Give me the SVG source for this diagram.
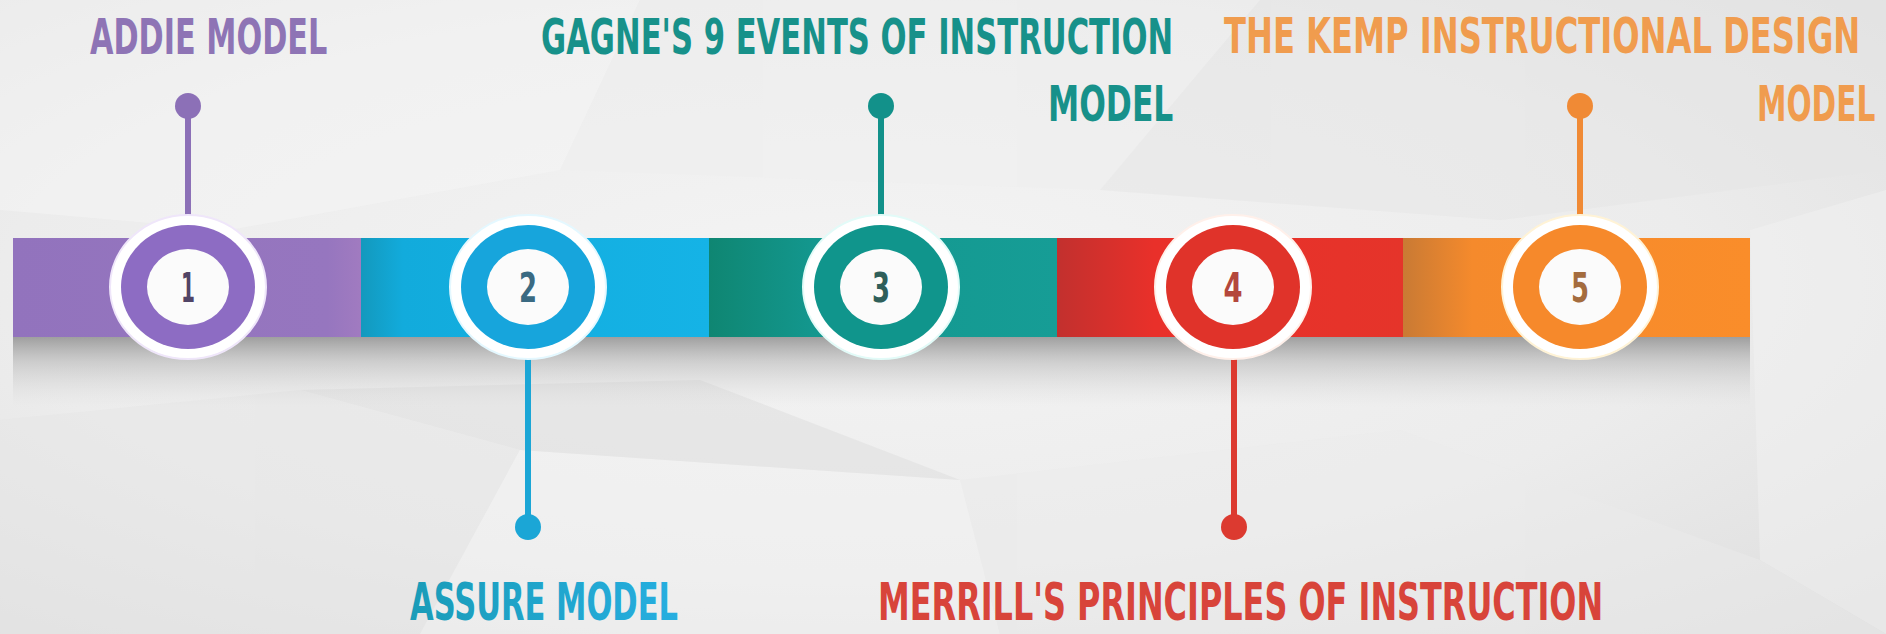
<svg xmlns="http://www.w3.org/2000/svg" width="1886" height="634" viewBox="0 0 1886 634">
  <defs>
    <radialGradient id="bgGrad" cx="0.45" cy="0.45" r="0.75">
      <stop offset="0" stop-color="#f4f4f4"/>
      <stop offset="0.6" stop-color="#ececec"/>
      <stop offset="1" stop-color="#dedede"/>
    </radialGradient>
    <linearGradient id="shadowGrad" x1="0" y1="0" x2="0" y2="1">
      <stop offset="0" stop-color="#969696" stop-opacity="0.9"/>
      <stop offset="0.35" stop-color="#b2b2b2" stop-opacity="0.55"/>
      <stop offset="1" stop-color="#d8d8d8" stop-opacity="0"/>
    </linearGradient>
    <linearGradient id="gPurple" x1="0" y1="0" x2="1" y2="0">
      <stop offset="0" stop-color="#9273bd"/>
      <stop offset="0.9" stop-color="#9676bf"/>
      <stop offset="1" stop-color="#a17bc0"/>
    </linearGradient>
    <linearGradient id="gBlue" x1="0" y1="0" x2="1" y2="0">
      <stop offset="0" stop-color="#1399bd"/>
      <stop offset="0.12" stop-color="#12abdc"/>
      <stop offset="1" stop-color="#15b3e6"/>
    </linearGradient>
    <linearGradient id="gTeal" x1="0" y1="0" x2="1" y2="0">
      <stop offset="0" stop-color="#0f8672"/>
      <stop offset="0.3" stop-color="#13978e"/>
      <stop offset="1" stop-color="#169d96"/>
    </linearGradient>
    <linearGradient id="gRed" x1="0" y1="0" x2="1" y2="0">
      <stop offset="0" stop-color="#c2302e"/>
      <stop offset="0.28" stop-color="#e9302a"/>
      <stop offset="1" stop-color="#e5342a"/>
    </linearGradient>
    <linearGradient id="gOrange" x1="0" y1="0" x2="1" y2="0">
      <stop offset="0" stop-color="#c97a34"/>
      <stop offset="0.2" stop-color="#f58a2c"/>
      <stop offset="1" stop-color="#fa8d2a"/>
    </linearGradient>
    <linearGradient id="gAssure" x1="0" y1="0" x2="1" y2="0">
      <stop offset="0" stop-color="#1a9cb8"/>
      <stop offset="1" stop-color="#26aee0"/>
    </linearGradient>
  </defs>
  <style>
    .lbl { font-family: "DejaVu Sans Condensed", "Liberation Sans", sans-serif; font-weight: bold; font-size: 50px; }
    .lblb { font-family: "DejaVu Sans Condensed", "Liberation Sans", sans-serif; font-weight: bold; font-size: 52px; }
    .num { font-family: "DejaVu Sans Condensed", "Liberation Sans", sans-serif; font-weight: bold; font-size: 40px; text-anchor: middle; }
    .outer { fill: #ffffff; }
    .inner { fill: #fbfbfb; }
    .stem { stroke-width: 6; fill: none; }
  </style>

  <!-- background -->
  <rect x="0" y="0" width="1886" height="634" fill="url(#bgGrad)"/>
  <g id="background-facets" opacity="0.5">
    <polygon points="0,0 640,0 560,170 230,230 0,210" fill="#f6f6f6"/>
    <polygon points="640,0 1260,0 1100,190 560,170" fill="#efefef"/>
    <polygon points="1260,0 1886,0 1886,170 1500,220 1100,190" fill="#e6e6e6"/>
    <polygon points="1750,230 1886,190 1886,634 1760,560" fill="#f2f2f2"/>
    <polygon points="0,420 300,390 520,450 420,634 0,634" fill="#e6e6e6"/>
    <polygon points="520,450 960,480 1000,634 420,634" fill="#f3f3f3"/>
    <polygon points="960,480 1400,430 1760,560 1886,634 1000,634" fill="#ebebeb"/>
    <polygon points="300,390 700,380 960,480 520,450" fill="#dedede"/>
  </g>

  <!-- bar shadow -->
  <rect x="13" y="337" width="1737" height="70" fill="url(#shadowGrad)"/>

  <!-- timeline bar -->
  <g id="bar">
    <rect x="13" y="238" width="349" height="99" fill="url(#gPurple)"/>
    <rect x="361" y="238" width="349" height="99" fill="url(#gBlue)"/>
    <rect x="709" y="238" width="349" height="99" fill="url(#gTeal)"/>
    <rect x="1057" y="238" width="347" height="99" fill="url(#gRed)"/>
    <rect x="1403" y="238" width="347" height="99" fill="url(#gOrange)"/>
  </g>

  <!-- connectors -->
  <g id="connectors">
    <line class="stem" x1="188" y1="106" x2="188" y2="240" stroke="#8c70b7"/>
    <circle cx="188" cy="106" r="13" fill="#8c70b7"/>
    <line class="stem" x1="528" y1="330" x2="528" y2="527" stroke="#1ba6d6"/>
    <circle cx="528" cy="527" r="13" fill="#1ba6d6"/>
    <line class="stem" x1="881" y1="106" x2="881" y2="240" stroke="#12918a"/>
    <circle cx="881" cy="106" r="13" fill="#12918a"/>
    <line class="stem" x1="1234" y1="330" x2="1234" y2="527" stroke="#dc3a30"/>
    <circle cx="1234" cy="527" r="13" fill="#dc3a30"/>
    <line class="stem" x1="1580" y1="106" x2="1580" y2="240" stroke="#f08a35"/>
    <circle cx="1580" cy="106" r="13" fill="#f08a35"/>
  </g>

  <!-- node 1 -->
  <g id="node-1">
    <ellipse class="outer" cx="188" cy="287" rx="78" ry="72" stroke="#efe6fa" stroke-width="2"/>
    <ellipse cx="188" cy="287" rx="67" ry="62" fill="#8d6cc3"/>
    <ellipse class="inner" cx="188" cy="287" rx="41" ry="38"/>
    <text class="num" x="188" y="302" fill="#514466" textLength="14" lengthAdjust="spacingAndGlyphs">1</text>
    <text class="lbl" transform="translate(90,54) scale(0.7,1)" x="0" y="0" fill="#8e74b5" textLength="339" lengthAdjust="spacingAndGlyphs">ADDIE MODEL</text>
  </g>

  <!-- node 2 -->
  <g id="node-2">
    <ellipse class="outer" cx="528" cy="287" rx="78" ry="72" stroke="#e4f8ff" stroke-width="2"/>
    <ellipse cx="528" cy="287" rx="67" ry="62" fill="#17a5dc"/>
    <ellipse class="inner" cx="528" cy="287" rx="41" ry="38"/>
    <text class="num" x="528" y="302" fill="#3a6a82" textLength="18" lengthAdjust="spacingAndGlyphs">2</text>
    <text class="lblb" transform="translate(410,620) scale(0.7,1)" x="0" y="0" fill="url(#gAssure)" textLength="383" lengthAdjust="spacingAndGlyphs">ASSURE MODEL</text>
  </g>

  <!-- node 3 -->
  <g id="node-3">
    <ellipse class="outer" cx="881" cy="287" rx="78" ry="72" stroke="#e2fbf8" stroke-width="2"/>
    <ellipse cx="881" cy="287" rx="67" ry="62" fill="#10958c"/>
    <ellipse class="inner" cx="881" cy="287" rx="41" ry="38"/>
    <text class="num" x="881" y="302" fill="#2f5f5a" textLength="18" lengthAdjust="spacingAndGlyphs">3</text>
    <text class="lbl" transform="translate(541,54) scale(0.7,1)" x="0" y="0" fill="#17918a" textLength="903" lengthAdjust="spacingAndGlyphs">GAGNE'S 9 EVENTS OF INSTRUCTION</text>
    <text class="lbl" transform="translate(1048,121) scale(0.7,1)" x="0" y="0" fill="#17918a" textLength="179" lengthAdjust="spacingAndGlyphs">MODEL</text>
  </g>

  <!-- node 4 -->
  <g id="node-4">
    <ellipse class="outer" cx="1233" cy="287" rx="78" ry="72" stroke="#fff0ea" stroke-width="2"/>
    <ellipse cx="1233" cy="287" rx="67" ry="62" fill="#e0332a"/>
    <ellipse class="inner" cx="1233" cy="287" rx="41" ry="38"/>
    <text class="num" x="1233" y="302" fill="#b4473c" textLength="19" lengthAdjust="spacingAndGlyphs">4</text>
    <text class="lblb" transform="translate(878,620) scale(0.7,1)" x="0" y="0" fill="#d8443a" textLength="1036" lengthAdjust="spacingAndGlyphs">MERRILL'S PRINCIPLES OF INSTRUCTION</text>
  </g>

  <!-- node 5 -->
  <g id="node-5">
    <ellipse class="outer" cx="1580" cy="287" rx="78" ry="72" fill="#fffcf0" stroke="#fff3d6" stroke-width="2"/>
    <ellipse cx="1580" cy="287" rx="67" ry="62" fill="#f6892b"/>
    <ellipse class="inner" cx="1580" cy="287" rx="41" ry="38"/>
    <text class="num" x="1580" y="302" fill="#a46c3e" textLength="18" lengthAdjust="spacingAndGlyphs">5</text>
    <text class="lbl" transform="translate(1224,53) scale(0.7,1)" x="0" y="0" fill="#f09c4e" textLength="909" lengthAdjust="spacingAndGlyphs">THE KEMP INSTRUCTIONAL DESIGN</text>
    <text class="lbl" transform="translate(1757,121) scale(0.7,1)" x="0" y="0" fill="#f09c4e" textLength="169" lengthAdjust="spacingAndGlyphs">MODEL</text>
  </g>
</svg>
